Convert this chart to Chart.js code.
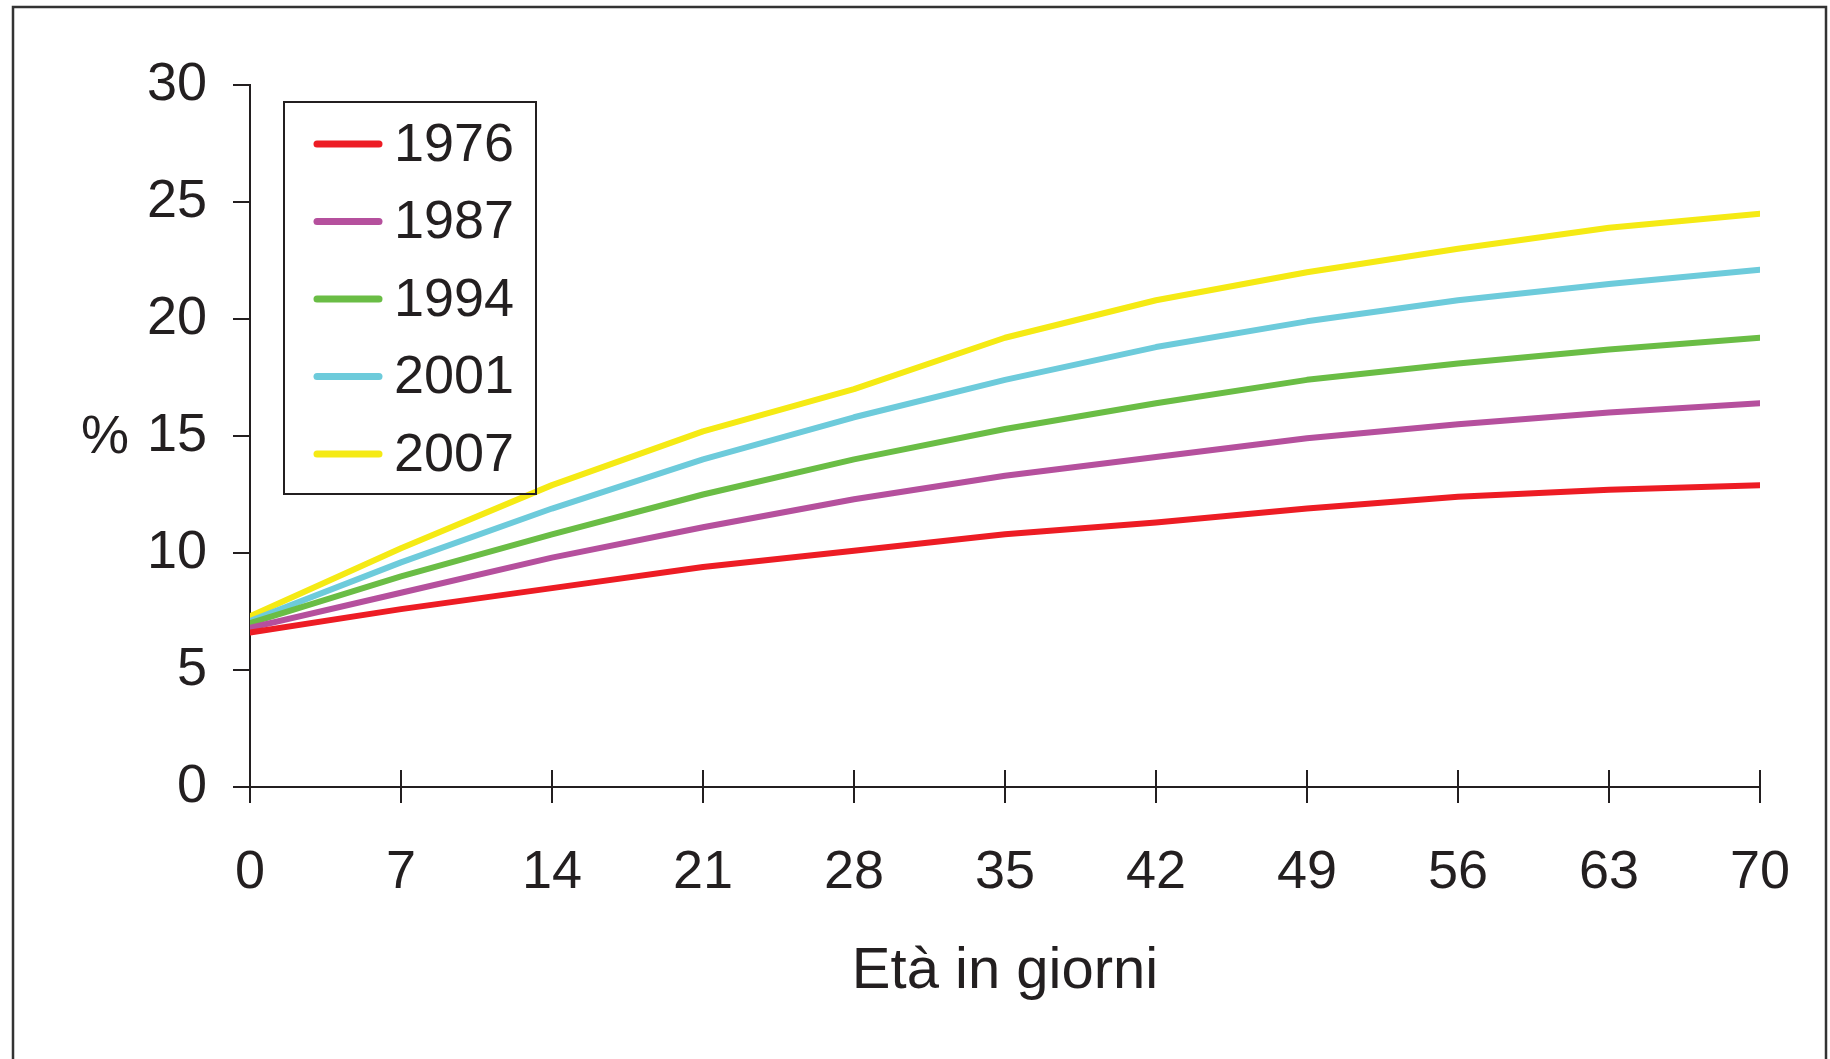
<!DOCTYPE html>
<html>
<head>
<meta charset="utf-8">
<script src="https://cdn.jsdelivr.net/npm/chart.js@4.4.1/dist/chart.umd.min.js"></script>
<style>
  html, body { margin: 0; padding: 0; background: #fff; }
  #wrap { width: 1830px; height: 1059px; position: relative; }
</style>
</head>
<body>
<div id="wrap"><canvas id="line-chart" width="1830" height="1059"></canvas></div>
<script>
// giorni di età (asse x)
const days = [0, 7, 14, 21, 28, 35, 42, 49, 56, 63, 70];
const yTicks = [0, 5, 10, 15, 20, 25, 30];

// percentuali per anno di rilevazione
const years = ['1976', '1987', '1994', '2001', '2007'];
const s1976 = [6.6, 7.6, 8.5, 9.4, 10.1, 10.8, 11.3, 11.9, 12.4, 12.7, 12.9];
const s1987 = [6.8, 8.3, 9.8, 11.1, 12.3, 13.3, 14.1, 14.9, 15.5, 16.0, 16.4];
const s1994 = [7.0, 9.0, 10.8, 12.5, 14.0, 15.3, 16.4, 17.4, 18.1, 18.7, 19.2];
const s2001 = [7.1, 9.6, 11.9, 14.0, 15.8, 17.4, 18.8, 19.9, 20.8, 21.5, 22.1];
const s2007 = [7.3, 10.2, 12.9, 15.2, 17.0, 19.2, 20.8, 22.0, 23.0, 23.9, 24.5];

const colors = ['#ED1C24', '#B5509D', '#6ABD45', '#6DCBDB', '#F5EA14'];
const FONT = '"Liberation Sans", Arial, sans-serif';
const INK = '#231F20';

const series = [s1976, s1987, s1994, s2001, s2007];
const datasets = series.map((vals, i) => ({
  label: years[i],
  data: vals.map((v, j) => ({ x: days[j], y: v })),
  borderColor: colors[i],
  backgroundColor: colors[i],
  borderWidth: 6,
  borderCapStyle: 'round',
  borderJoinStyle: 'round',
  pointRadius: 0,
  tension: 0,
  fill: false
}));

// cornice esterna
const framePlugin = {
  id: 'frame',
  beforeDraw(chart) {
    const ctx = chart.ctx;
    ctx.save();
    ctx.strokeStyle = '#333';
    ctx.lineWidth = 2.5;
    ctx.strokeRect(13, 7, 1813, 1100);
    ctx.restore();
  }
};

// tacche dell'asse x che attraversano la linea + etichetta "%"
const extrasPlugin = {
  id: 'extras',
  afterDraw(chart) {
    const ctx = chart.ctx;
    const xs = chart.scales.x;
    const ys = chart.scales.y;
    const y0 = ys.getPixelForValue(0);
    ctx.save();
    ctx.strokeStyle = INK;
    ctx.lineWidth = 2;
    xs.ticks.forEach(t => {
      const px = xs.getPixelForValue(t.value);
      ctx.beginPath();
      ctx.moveTo(px, y0 - 17);
      ctx.lineTo(px, y0 + 16);
      ctx.stroke();
    });
    ctx.fillStyle = INK;
    ctx.font = '54px ' + FONT;
    ctx.textAlign = 'center';
    ctx.textBaseline = 'middle';
    ctx.fillText('%', 105, ys.getPixelForValue(15) + 2);
    ctx.restore();
  }
};

// legenda nel riquadro in alto a sinistra
const boxLegend = {
  id: 'boxLegend',
  afterDraw(chart) {
    const ctx = chart.ctx;
    ctx.save();
    ctx.strokeStyle = INK;
    ctx.lineWidth = 2;
    ctx.strokeRect(284, 102, 252, 392);
    ctx.font = '54px ' + FONT;
    ctx.textBaseline = 'middle';
    ctx.textAlign = 'left';
    chart.data.datasets.forEach((ds, i) => {
      const y = 144 + i * 77.5;
      ctx.strokeStyle = ds.borderColor;
      ctx.lineWidth = 7;
      ctx.lineCap = 'round';
      ctx.beginPath();
      ctx.moveTo(317, y);
      ctx.lineTo(379, y);
      ctx.stroke();
      ctx.fillStyle = INK;
      ctx.fillText(ds.label, 394, y + 2);
    });
    ctx.restore();
  }
};

new Chart(document.getElementById('line-chart'), {
  type: 'line',
  data: { datasets: datasets },
  plugins: [framePlugin, extrasPlugin, boxLegend],
  options: {
    responsive: false,
    animation: false,
    layout: { padding: { top: 85, right: 70, bottom: 0, left: 0 } },
    plugins: {
      legend: { display: false },
      tooltip: { enabled: false }
    },
    scales: {
      x: {
        type: 'linear',
        min: 0,
        max: 70,
        afterBuildTicks: s => { s.ticks = days.map(v => ({ value: v })); },
        afterFit: s => {
          s.height = 272;
          s.paddingLeft = 0;
          s.paddingRight = 0;
        },
        grid: { display: false },
        border: { display: true, color: INK, width: 2 },
        ticks: {
          color: INK,
          padding: 46,
          maxRotation: 0,
          autoSkip: false,
          font: { family: FONT, size: 54 }
        },
        title: {
          display: true,
          text: 'Età in giorni',
          color: INK,
          font: { family: FONT, size: 58 },
          padding: { top: 0, bottom: 52 }
        }
      },
      y: {
        min: 0,
        max: 30,
        afterBuildTicks: s => { s.ticks = yTicks.map(v => ({ value: v })); },
        afterFit: s => { s.width = 250; },
        grid: { drawOnChartArea: false, tickLength: 17, color: INK, lineWidth: 2 },
        border: { display: true, color: INK, width: 2 },
        ticks: {
          color: INK,
          padding: 26,
          font: { family: FONT, size: 54 }
        }
      }
    }
  }
});
</script>
</body>
</html>
